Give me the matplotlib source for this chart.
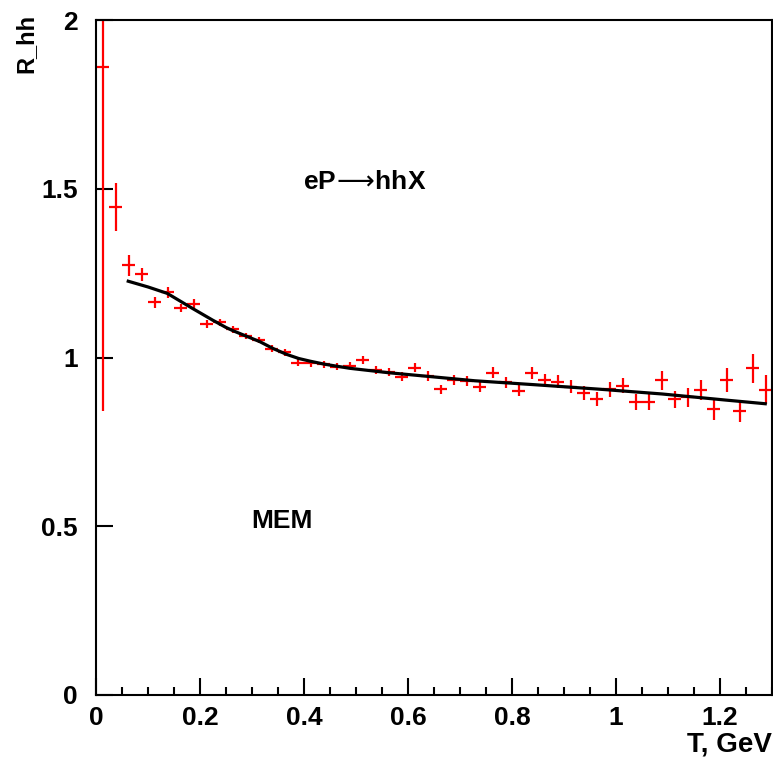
import matplotlib
matplotlib.use("Agg")
import matplotlib.pyplot as plt
import matplotlib.ticker as ticker

plt.rcParams['font.family'] = ['Liberation Sans', 'DejaVu Sans']

# bin centres (GeV), bin half width 0.0125
t = [0.0125, 0.0375, 0.0625, 0.0875, 0.1125, 0.1375, 0.1625, 0.1875, 0.2125, 0.2375,
     0.2625, 0.2875, 0.3125, 0.3375, 0.3625, 0.3875, 0.4125, 0.4375, 0.4625, 0.4875,
     0.5125, 0.5375, 0.5625, 0.5875, 0.6125, 0.6375, 0.6625, 0.6875, 0.7125, 0.7375,
     0.7625, 0.7875, 0.8125, 0.8375, 0.8625, 0.8875, 0.9125, 0.9375, 0.9625, 0.9875,
     1.0125, 1.0375, 1.0625, 1.0875, 1.1125, 1.1375, 1.1625, 1.1875, 1.2125, 1.2375,
     1.2625, 1.2875]
r_hh = [1.862, 1.446, 1.273, 1.246, 1.164, 1.193, 1.147, 1.160, 1.098, 1.104,
        1.083, 1.064, 1.052, 1.026, 1.015, 0.985, 0.983, 0.980, 0.973, 0.976,
        0.993, 0.963, 0.958, 0.943, 0.970, 0.945, 0.906, 0.934, 0.931, 0.912,
        0.955, 0.926, 0.902, 0.955, 0.934, 0.928, 0.914, 0.894, 0.877, 0.906,
        0.917, 0.869, 0.869, 0.932, 0.876, 0.882, 0.904, 0.848, 0.934, 0.842,
        0.968, 0.904]
r_err = [1.02, 0.07, 0.031, 0.018, 0.016, 0.016, 0.012, 0.012, 0.012, 0.011,
         0.011, 0.010, 0.010, 0.010, 0.010, 0.010, 0.010, 0.010, 0.010, 0.011,
         0.012, 0.012, 0.012, 0.013, 0.013, 0.014, 0.014, 0.014, 0.015, 0.015,
         0.016, 0.016, 0.017, 0.018, 0.018, 0.019, 0.020, 0.021, 0.021, 0.022,
         0.022, 0.024, 0.024, 0.028, 0.026, 0.028, 0.030, 0.032, 0.036, 0.033,
         0.043, 0.043]
t_halfwidth = 0.0125

# MEM curve
mem_t = [0.062, 0.10, 0.137, 0.186, 0.224, 0.25, 0.264, 0.315, 0.34, 0.367, 0.39,
         0.412, 0.44, 0.488, 0.562, 0.646, 0.729, 0.847, 0.969, 1.088, 1.21, 1.287]
mem_r = [1.226, 1.209, 1.190, 1.145, 1.111, 1.089, 1.079, 1.047, 1.027, 1.009, 0.997,
         0.989, 0.980, 0.968, 0.955, 0.943, 0.931, 0.919, 0.906, 0.892, 0.874, 0.863]

fig = plt.figure(figsize=(7.73, 7.58), dpi=100)
ax = fig.add_axes([96/773, 63/758, 676/773, 675/758])

ax.errorbar(t, r_hh, yerr=r_err, xerr=t_halfwidth, fmt='none', ecolor='#ff0000',
            elinewidth=1.6, capsize=0, zorder=2)
ax.plot(mem_t, mem_r, color='black', lw=2.3, zorder=3)

ax.set_xlim(0, 1.3)
ax.set_ylim(0, 2)
ax.xaxis.set_major_locator(ticker.MultipleLocator(0.2))
ax.xaxis.set_minor_locator(ticker.MultipleLocator(0.05))
ax.yaxis.set_major_locator(ticker.MultipleLocator(0.5))
ax.xaxis.set_major_formatter(ticker.FuncFormatter(lambda v, p: '%g' % round(v, 2)))
ax.yaxis.set_major_formatter(ticker.FuncFormatter(lambda v, p: '%g' % round(v, 2)))
ax.tick_params(axis='both', which='both', direction='in', top=False, right=False,
               width=1.5, labelsize=19)
ax.tick_params(axis='x', which='major', length=12, pad=8)
ax.tick_params(axis='x', which='minor', length=6)
ax.tick_params(axis='y', which='major', length=12, pad=13)
for lab in ax.get_xticklabels() + ax.get_yticklabels():
    lab.set_fontweight('bold')
for s in ax.spines.values():
    s.set_linewidth(1.5)

ax.text(1.0, -0.084, 'T, GeV', transform=ax.transAxes, ha='right', va='baseline',
        fontsize=20, fontweight='bold')
fig.text(14/773, 1 - 14/758, 'R_hh', rotation=90, ha='left', va='top',
         fontsize=17, fontweight='bold')

ax.text(0.398, 1.50, r'eP$\!\longrightarrow\!$hhX', fontsize=19, fontweight='bold',
        ha='left', va='baseline')
ax.text(0.298, 0.496, 'MEM', fontsize=19, fontweight='bold', ha='left', va='baseline')

fig.savefig('out.png', dpi=100)
